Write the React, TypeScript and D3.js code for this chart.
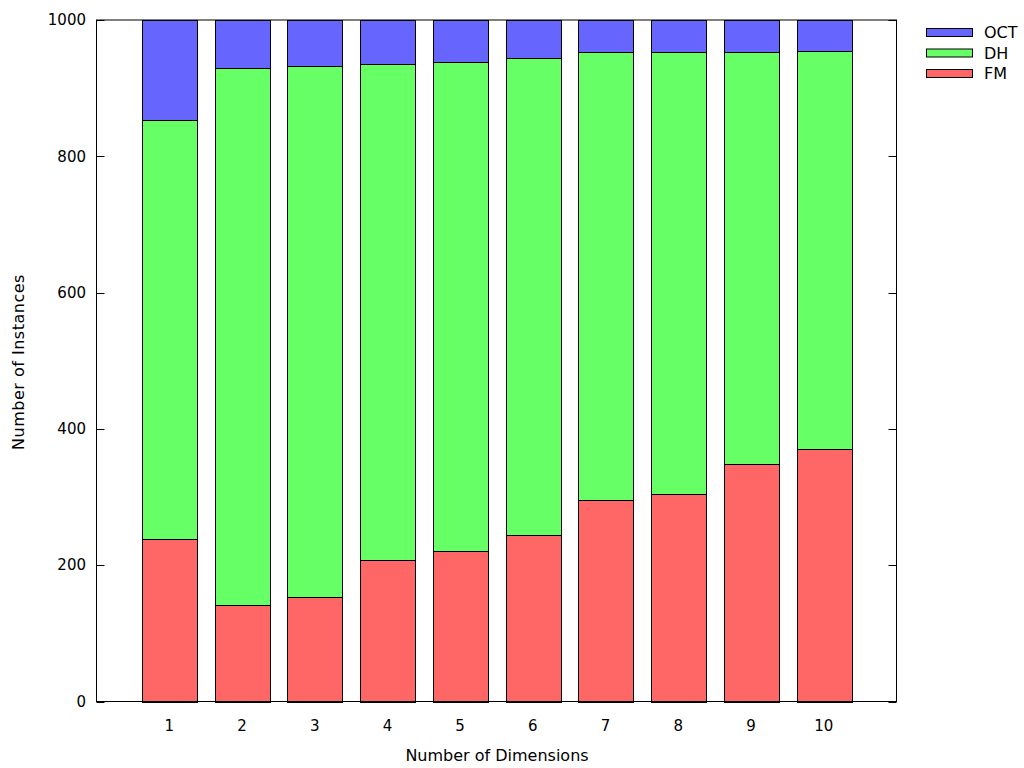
import React from "react";
import * as d3 from "d3";

const categories = ["1", "2", "3", "4", "5", "6", "7", "8", "9", "10"];
const FM = [239, 142, 154, 208, 221, 245, 296, 305, 349, 371];
const DH = [614, 787, 779, 728, 718, 699, 657, 648, 604, 583];
const OCT = [147, 71, 67, 64, 61, 56, 47, 47, 47, 46];
const yTicks = [0, 200, 400, 600, 800, 1000];
const seriesNames = ["FM", "DH", "OCT"];
const colors: Record<string, string> = { FM: "#ff6666", DH: "#66ff66", OCT: "#6666ff" };
const legendOrder = ["OCT", "DH", "FM"];

export default function App() {
  const W = 1024, H = 768;
  const left = 96.5, right = 896.5, top = 20, bottom = 701.5;
  const x = d3.scaleLinear().domain([-1, 10]).range([left, right]);
  const y = d3.scaleLinear().domain([0, 1000]).range([bottom, top]);
  const rows = categories.map((c, i) => ({ c, FM: FM[i], DH: DH[i], OCT: OCT[i] }));
  const stack = d3.stack<any>().keys(seriesNames)(rows);
  const bw = (x(1) - x(0)) * 0.75;
  const font = "'DejaVu Sans', Verdana, sans-serif";
  const fs = 15;
  const fl = 16;
  return (
    <svg width={W} height={H} style={{ position: "absolute", left: 0, top: 0 }} fontFamily={font}>
      <rect width={W} height={H} fill="#fff" />
      {stack.map((s) => (
        <g key={s.key}>
          {s.map((d, i) => (
            <rect
              key={i}
              x={Math.round(x(i) - bw / 2) + 0.5}
              y={Math.round(y(d[1])) + 0.5}
              width={Math.round(bw)}
              height={Math.round(y(d[0])) - Math.round(y(d[1]))}
              fill={colors[s.key]}
              stroke="#000"
              strokeWidth={1}
            />
          ))}
        </g>
      ))}
      <rect x={left} y={top} width={right - left} height={bottom - top} fill="none" stroke="#000" strokeWidth={1} />
      {yTicks.map((t) => (
        <g key={t}>
          <line x1={left} x2={left + 8} y1={Math.round(y(t)) + 0.5} y2={Math.round(y(t)) + 0.5} stroke="#000" />
          <line x1={right - 8} x2={right} y1={Math.round(y(t)) + 0.5} y2={Math.round(y(t)) + 0.5} stroke="#000" />
          <text x={86} y={y(t)} dy="0.35em" textAnchor="end" fontSize={fs}>{t}</text>
        </g>
      ))}
      {categories.map((c, i) => (
        <text key={c} x={x(i)} y={725.5} dy="0.35em" textAnchor="middle" fontSize={fs}>{c}</text>
      ))}
      <text x={497} y={755} dy="0.35em" textAnchor="middle" fontSize={fl}>Number of Dimensions</text>
      <text transform={`translate(18,362) rotate(-90)`} dy="0.35em" textAnchor="middle" fontSize={fl} letterSpacing={0.5}>Number of Instances</text>
      {legendOrder.map((k, i) => (
        <g key={k}>
          <rect x={926.5} y={28.5 + i * 20.5} width={46} height={8} fill={colors[k]} stroke="#000" />
          <text x={984} y={32.5 + i * 20.5} dy="0.35em" fontSize={fl}>{k}</text>
        </g>
      ))}
    </svg>
  );
}
